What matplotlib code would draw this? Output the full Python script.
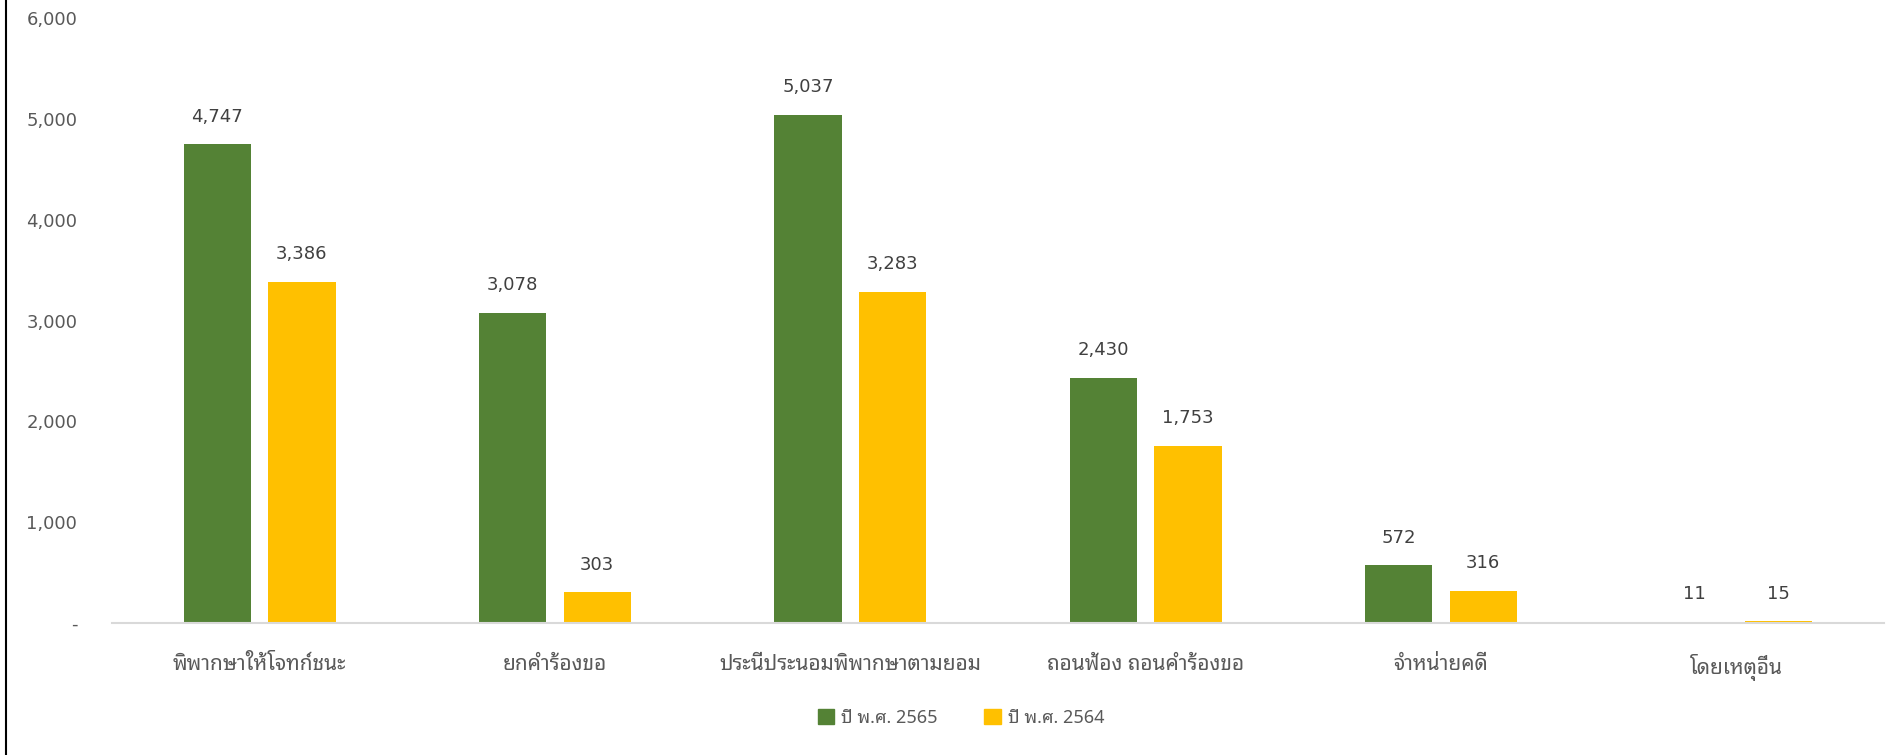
import numpy as np
import matplotlib
matplotlib.use('Agg')
import matplotlib.pyplot as plt
from matplotlib.patches import Patch
from matplotlib.lines import Line2D

# Categories (case outcomes) and the two years we compare
CATEGORIES = ['พิพากษาให้โจทก์ชนะ', 'ยกคำร้องขอ', 'ประนีประนอมพิพากษาตามยอม',
              'ถอนฟ้อง ถอนคำร้องขอ', 'จำหน่ายคดี', 'โดยเหตุอื่น']
SERIES_NAMES = ['ปี พ.ศ. 2565', 'ปี พ.ศ. 2564']
Y2565 = [4747, 3078, 5037, 2430, 572, 11]
Y2564 = [3386, 303, 3283, 1753, 316, 15]
Y_TICKS = [0, 1000, 2000, 3000, 4000, 5000, 6000]
Y_TICK_LABELS = ['-', '1,000', '2,000', '3,000', '4,000', '5,000', '6,000']

GREEN = '#548235'
YELLOW = '#FFC000'
THAI_FONT = ['Noto Sans Thai Looped', 'DejaVu Sans']
NUM_FONT = ['DejaVu Sans']

fig = plt.figure(figsize=(19.01, 7.55), dpi=100)
ax = fig.add_axes([112 / 1901, 132 / 755, (1884 - 112) / 1901, (623 - 18) / 755])

x = np.arange(len(CATEGORIES))
w = 0.228
off = 0.143

bars_a = ax.bar(x - off, Y2565, width=w, color=GREEN, label=SERIES_NAMES[0])
bars_b = ax.bar(x + off, Y2564, width=w, color=YELLOW, label=SERIES_NAMES[1])

# value labels above each bar
for bars, vals in [(bars_a, Y2565), (bars_b, Y2564)]:
  for b, v in zip(bars, vals):
    ax.annotate(f'{v:,}', (b.get_x() + b.get_width() / 2, v),
                xytext=(0, 20), textcoords='offset points',
                ha='center', va='center', fontsize=13, color='#404040',
                family=NUM_FONT)

ax.set_xlim(-0.5, len(CATEGORIES) - 0.5)
ax.set_ylim(0, 6000)
ax.set_yticks(Y_TICKS)
ax.set_yticklabels(Y_TICK_LABELS, fontsize=13, color='#595959', family=NUM_FONT)
ax.set_xticks(x)
ax.set_xticklabels(CATEGORIES, fontsize=15, color='#595959', family=THAI_FONT)
ax.tick_params(axis='y', length=0, pad=25)
ax.tick_params(axis='x', length=0, pad=22)

for s in ['top', 'right', 'left']:
  ax.spines[s].set_visible(False)
ax.spines['bottom'].set_color('#D9D9D9')
ax.spines['bottom'].set_linewidth(1.5)

# legend below the chart
handles = [Patch(color=GREEN), Patch(color=YELLOW)]
leg = fig.legend(handles, SERIES_NAMES, loc='center', bbox_to_anchor=(961 / 1901, 1 - 718 / 755),
                 ncol=2, frameon=False, handlelength=0.9, handleheight=0.9,
                 handletextpad=0.4, columnspacing=2.6,
                 prop={'family': THAI_FONT, 'size': 13})
for t in leg.get_texts():
  t.set_color('#595959')

# thin dark frame line on the left edge of the picture
fig.add_artist(Line2D([6 / 1901, 6 / 1901], [0, 1], transform=fig.transFigure, color='black', lw=1.5))

fig.savefig('out.png', dpi=100)
